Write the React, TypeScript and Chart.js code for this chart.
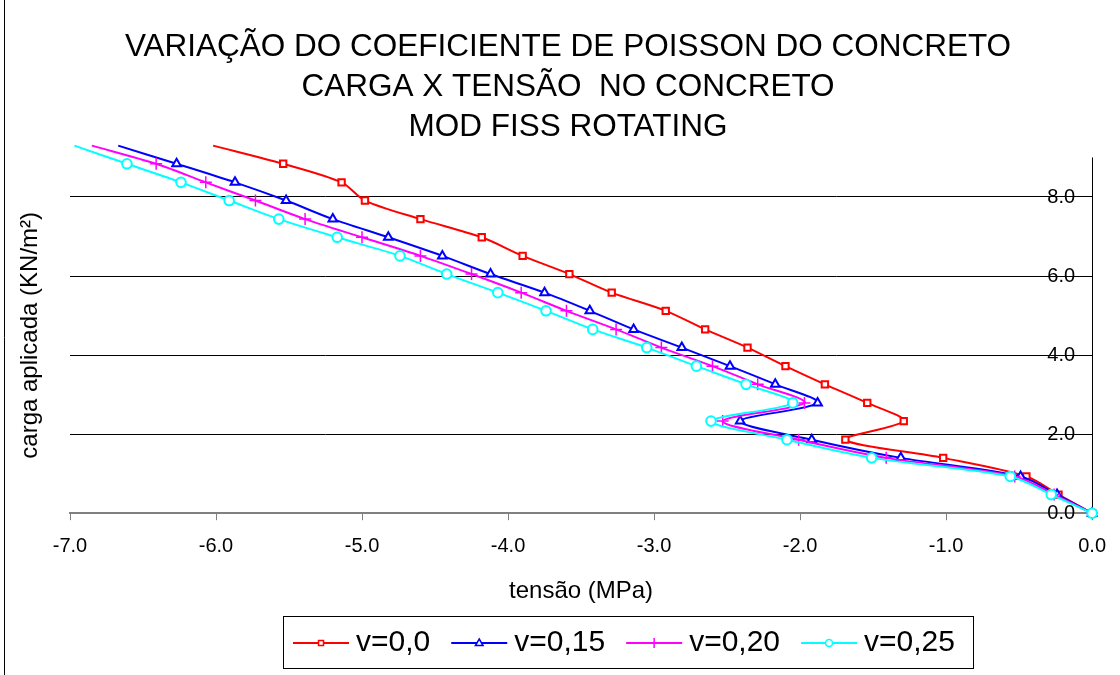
import React, { useEffect, useRef } from 'react';
import { Chart, registerables } from 'chart.js';

Chart.register(...registerables);

const FONT = '"Liberation Sans", Arial, Helvetica, sans-serif';

const titleLines = [
  'VARIAÇÃO DO COEFICIENTE DE POISSON DO CONCRETO',
  'CARGA X TENSÃO  NO CONCRETO',
  'MOD FISS ROTATING',
];
const xAxisTitle = 'tensão (MPa)';
const yAxisTitle = 'carga aplicada (KN/m²)';
const seriesNames = ['v=0,0', 'v=0,15', 'v=0,20', 'v=0,25'];

const xTickValues = [-7, -6, -5, -4, -3, -2, -1, 0];
const yTickValues = [0, 2, 4, 6, 8];

// carga aplicada (KN/m²) – load steps
const carga = [0.0, 0.47, 0.93, 1.4, 1.86, 2.33, 2.79, 3.26, 3.72, 4.19, 4.65, 5.12, 5.58, 6.05, 6.51, 6.98, 7.44, 7.91, 8.37, 8.84, 9.3];

// tensão (MPa) for each Poisson coefficient
const tensaoV000 = [0, -0.23, -0.45, -1.02, -1.69, -1.29, -1.54, -1.83, -2.1, -2.36, -2.65, -2.92, -3.29, -3.58, -3.9, -4.18, -4.6, -4.98, -5.14, -5.54, -6.02];
const tensaoV015 = [0, -0.24, -0.49, -1.31, -1.92, -2.41, -1.88, -2.17, -2.48, -2.81, -3.14, -3.44, -3.75, -4.12, -4.45, -4.82, -5.2, -5.52, -5.87, -6.27, -6.67];
const tensaoV020 = [0, -0.26, -0.53, -1.41, -2.01, -2.53, -1.97, -2.29, -2.6, -2.95, -3.26, -3.6, -3.91, -4.25, -4.6, -5.0, -5.39, -5.73, -6.07, -6.41, -6.85];
const tensaoV025 = [0, -0.28, -0.56, -1.51, -2.09, -2.61, -2.05, -2.37, -2.71, -3.05, -3.42, -3.74, -4.07, -4.42, -4.74, -5.17, -5.57, -5.91, -6.24, -6.61, -6.97];

const seriesColors = ['#FF0000', '#0000FF', '#FF00FF', '#00FFFF'];
const seriesMarkers = ['rect', 'triangle', 'cross', 'circle'];

function drawMarker(ctx: CanvasRenderingContext2D, style: string, x: number, y: number, color: string) {
  ctx.save();
  ctx.strokeStyle = color;
  ctx.fillStyle = '#fff';
  ctx.lineWidth = 1.5;
  ctx.beginPath();
  if (style === 'rect') {
    ctx.rect(x - 2.5, y - 2.5, 5, 5);
    ctx.fill();
    ctx.stroke();
  } else if (style === 'triangle') {
    ctx.moveTo(x, y - 4);
    ctx.lineTo(x + 3.8, y + 2.5);
    ctx.lineTo(x - 3.8, y + 2.5);
    ctx.closePath();
    ctx.fill();
    ctx.stroke();
  } else if (style === 'cross') {
    ctx.moveTo(x - 5, y);
    ctx.lineTo(x + 5, y);
    ctx.moveTo(x, y - 5);
    ctx.lineTo(x, y + 5);
    ctx.stroke();
  } else {
    ctx.arc(x, y, 3.5, 0, Math.PI * 2);
    ctx.fill();
    ctx.stroke();
  }
  ctx.restore();
}

const legendPlugin = {
  id: 'excelLegend',
  afterDraw(chart: any) {
    const ctx: CanvasRenderingContext2D = chart.ctx;
    ctx.save();
    // outer chart border (left side)
    ctx.strokeStyle = '#000';
    ctx.lineWidth = 1;
    ctx.beginPath();
    ctx.moveTo(4.5, 0);
    ctx.lineTo(4.5, 675);
    ctx.stroke();

    const boxLeft = 283;
    const boxTop = 616;
    const boxW = 690;
    const boxH = 52;
    ctx.strokeStyle = '#000';
    ctx.lineWidth = 1;
    ctx.strokeRect(boxLeft + 0.5, boxTop + 0.5, boxW, boxH);

    ctx.font = `30px ${FONT}`;
    ctx.textAlign = 'left';
    ctx.textBaseline = 'middle';
    const lineLen = 56;
    const gapText = 7;
    const gapItem = 21;
    const cy = boxTop + boxH / 2 + 1;
    let x = boxLeft + 10;
    seriesNames.forEach((name, i) => {
      ctx.strokeStyle = seriesColors[i];
      ctx.lineWidth = 2;
      ctx.beginPath();
      ctx.moveTo(x, cy);
      ctx.lineTo(x + lineLen, cy);
      ctx.stroke();
      drawMarker(ctx, seriesMarkers[i], x + lineLen / 2, cy, seriesColors[i]);
      x += lineLen + gapText;
      ctx.fillStyle = '#000';
      ctx.fillText(name, x, cy);
      x += ctx.measureText(name).width + gapItem;
    });
    ctx.restore();
  },
};

export default function App() {
  const canvasRef = useRef<HTMLCanvasElement | null>(null);

  useEffect(() => {
    if (!canvasRef.current) return;
    const series = [tensaoV000, tensaoV015, tensaoV020, tensaoV025];
    const radii = [4.5, 5, 6, 4.8];
    const datasets = series.map((xs, i) => ({
      label: seriesNames[i],
      data: xs.map((v, j) => ({ x: v, y: carga[j] })),
      borderColor: seriesColors[i],
      backgroundColor: seriesColors[i],
      borderWidth: 2,
      showLine: true,
      tension: 0.3,
      pointStyle: seriesMarkers[i],
      pointRadius: radii[i],
      pointBorderWidth: i === 2 ? 1.5 : 2,
      pointBorderColor: seriesColors[i],
      pointBackgroundColor: '#FFFFFF',
      clip: false as any,
      order: 4 - i,
    }));

    const chart = new Chart(canvasRef.current, {
      type: 'scatter',
      data: { datasets },
      plugins: [legendPlugin],
      options: {
        responsive: false,
        animation: false,
        events: [],
        layout: { padding: { left: 16, right: 0, top: 0, bottom: 70 } },
        plugins: {
          legend: { display: false },
          tooltip: { enabled: false },
          title: {
            display: true,
            text: titleLines,
            color: '#000',
            font: { family: FONT, size: 31.5, weight: 'normal', lineHeight: 1.28 },
            padding: { top: 27, bottom: 9.5 },
          },
        },
        scales: {
          x: {
            type: 'linear',
            position: 'bottom',
            min: -7,
            max: 0,
            afterBuildTicks: (s: any) => {
              s.ticks = xTickValues.map((v) => ({ value: v }));
            },
            ticks: {
              color: '#000',
              font: { family: FONT, size: 20 },
              padding: 14,
              callback: (v: any) => Number(v).toFixed(1),
            },
            grid: {
              display: true,
              drawOnChartArea: true,
              drawTicks: true,
              tickLength: 7,
              color: (c: any) => (c.tick && c.tick.value === 0 ? '#000' : 'rgba(0,0,0,0)'),
              tickColor: '#808080',
              lineWidth: 1,
            },
            border: { display: true, color: '#808080', width: 2 },
            title: {
              display: true,
              text: xAxisTitle,
              color: '#000',
              font: { family: FONT, size: 24 },
              padding: { top: 5, bottom: -1 },
            },
          },
          y: {
            type: 'linear',
            position: { x: -0.116 } as any,
            min: 0,
            max: 9,
            afterBuildTicks: (s: any) => {
              s.ticks = yTickValues.map((v) => ({ value: v }));
            },
            ticks: {
              color: '#000',
              font: { family: FONT, size: 20 },
              callback: (v: any) => Number(v).toFixed(1),
            },
            grid: {
              display: true,
              drawOnChartArea: true,
              drawTicks: false,
              color: '#000',
              lineWidth: 1,
            },
            border: { display: false },
          },
          yl: {
            type: 'linear',
            axis: 'y',
            position: 'left',
            ticks: { display: false },
            grid: { display: false, drawTicks: false },
            border: { display: false },
            title: {
              display: true,
              text: yAxisTitle,
              color: '#000',
              font: { family: FONT, size: 24 },
              padding: { top: 0, bottom: 25.2 },
            },
          },
          yr: {
            type: 'linear',
            axis: 'y',
            position: 'right',
            ticks: { display: false },
            grid: { display: false, drawTicks: false },
            border: { display: false },
            title: {
              display: true,
              text: ' ',
              color: '#fff',
              font: { family: FONT, size: 10 },
              padding: { top: 0, bottom: 15 },
            },
          },
        } as any,
      },
    });
    return () => chart.destroy();
  }, []);

  return (
    <div style={{ position: 'absolute', left: 0, top: 0, width: 1120, height: 675, background: '#fff' }}>
      <canvas ref={canvasRef} width={1120} height={675} style={{ display: 'block' }} />
    </div>
  );
}
